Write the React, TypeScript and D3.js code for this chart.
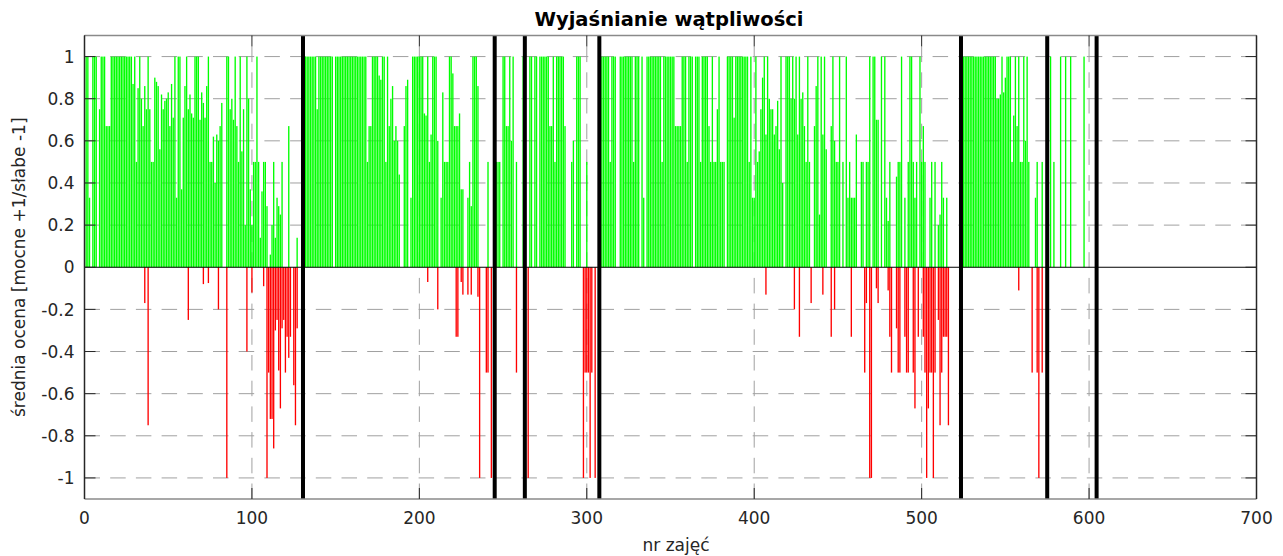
import * as d3 from "d3";

const TITLE = "Wyjaśnianie wątpliwości";
const X_LABEL = "nr zajęć";
const Y_LABEL = "średnia ocena [mocne +1/słabe -1]";

const xTicks = [0, 100, 200, 300, 400, 500, 600, 700];
const yTicks = [-1, -0.8, -0.6, -0.4, -0.2, 0, 0.2, 0.4, 0.6, 0.8, 1];

// granice bloków (grube pionowe linie)
const dividers = [130.5, 245, 263, 307.5, 523.5, 575, 604.5];

// numer pierwszych zajęć w każdym bloku
const blockStarts = [1, 131, 245, 264, 308, 524, 576];

// średnie dodatnie (mocne strony), zajęcia 1-130
const block1 = [
  1, 1, 0.33, 0, 1, 1, 1, 0, 0.75, 1,
  1, 1, 0.67, 0.67, 0.67, 1, 1, 1, 1, 1,
  1, 1, 1, 1, 1, 1, 1, 1, 0.87, 1,
  0.5, 0.85, 1, 0.8, 0.67, 0.86, 0.75, 1, 0.75, 0.5,
  0.5, 0.9, 0.88, 0.86, 0.56, 0.82, 0.75, 0.79, 0.8, 0.83,
  0.67, 0.87, 0.71, 1, 0.33, 1, 1, 0.37, 0.71, 0.86,
  1, 0.75, 0.82, 0.73, 0.71, 1, 1, 1, 0.7, 0.83,
  0.78, 0.71, 0.86, 1, 0.5, 0.5, 0.62, 0.4, 0.63, 0.6,
  0.67, 0.78, 0, 0, 1, 1, 0.75, 0.8, 0.7, 1,
  0.67, 0.5, 1, 0.55, 0.75, 0.2, 1, 0.8, 0.37, 0.2,
  0.5, 0.5, 1, 0.5, 0.14, 0.36, 0.5, 0.5, 0.29, 0,
  0.06, 0.2, 0.5, 0.14, 0.33, 0.29, 0.25, 0.5, 0, 0,
  0, 0.67, 0, 0, 0, 0, 0.14, 0, 0, 0,
];

// zajęcia 131-244
const block2 = [
  1, 1, 1, 1, 1, 1, 1, 1, 0.75, 1,
  1, 1, 1, 1, 1, 1, 1, 1, 0, 1,
  1, 1, 1, 1, 1, 1, 1, 1, 1, 1,
  1, 1, 1, 1, 1, 1, 1, 1, 0.5, 0.67,
  0.67, 1, 1, 1, 1, 0.91, 0.89, 1, 1, 0.5,
  1, 0.67, 0.8, 0.86, 0.6, 0.67, 0.6, 0.44, 0, 0,
  0.67, 0.86, 0.89, 0, 0.33, 1, 1, 1, 1, 1,
  1, 1, 0.73, 0.72, 1, 0.5, 0.63, 1, 1, 1,
  0.6, 0, 0.33, 0.83, 0.5, 0.5, 0.5, 1, 1, 0.92,
  0.67, 0.67, 0.67, 0.73, 0.37, 0.37, 0, 0, 0.33, 0.5,
  0.29, 1, 1, 1, 0.86, 0, 0, 0, 0, 0,
  0.5, 0, 0, 0,
];

// zajęcia 245-263
const block3 = [
  0, 0.5, 0.5, 0.5, 0, 1,
  1, 0.67, 0.67, 1, 0.6, 1, 0, 0.5, 0, 0,
  0, 1, 0,
];

// zajęcia 264-307
const block4 = [
  0, 0, 1, 1, 0, 1, 1,
  0, 1, 1, 1, 1, 1, 1, 0.67, 0.67, 1,
  0.5, 1, 1, 1, 1, 1, 0.67, 0, 0, 0,
  0.5, 0.6, 0, 1, 1, 1, 0, 0, 0, 0.5,
  0, 0, 0, 0, 0, 0, 0,
];

// zajęcia 308-523
const block5 = [
  1, 1, 1,
  1, 1, 1, 0.5, 1, 1, 1, 0, 0, 1,
  1, 1, 1, 1, 1, 1, 1, 0.5, 1, 1,
  1, 0, 1, 0.33, 0, 1, 1, 1, 1, 1,
  1, 1, 1, 1, 0.5, 1, 1, 1, 1, 1,
  1, 1, 0.67, 0.67, 0.67, 0.67, 1, 1, 1, 0.5,
  1, 1, 1, 0, 1, 1, 1, 0.5, 1, 1,
  1, 1, 0.67, 0.5, 1, 0.5, 0.5, 0.75, 1, 0.5,
  0.5, 0.5, 0, 1, 1, 1, 1, 0.71, 1, 1,
  1, 1, 1, 1, 1, 1, 0.5, 1, 0.33, 0.33,
  1, 0.5, 0.55, 0.75, 0.9, 1, 0.63, 1, 0.8, 0.75,
  0.75, 0.63, 0.67, 0.79, 0.56, 1, 0.4, 0, 1, 1,
  1, 0.8, 1, 0.8, 1, 0.63, 1, 0.8, 0.83, 0.67,
  0.5, 1, 0.5, 0, 0, 0.67, 0.86, 1, 0.25, 1,
  0.63, 1, 0.56, 0, 0, 0.67, 1, 0.6, 0.5, 0.5,
  1, 0, 0.5, 0, 1, 0.33, 0.5, 0.33, 0.33, 0.33,
  0.63, 0, 0, 0.5, 0.5, 0, 0.5, 0.5, 1, 0,
  1, 1, 0.7, 0.7, 0, 1, 0, 1, 0.33, 0.22,
  0.5, 0, 0, 0, 0.43, 0.5, 0.5, 1, 0, 0.33,
  0, 0.5, 1, 1, 0.5, 0.33, 0.5, 0, 1, 0.5,
  0.67, 0.5, 0, 0, 0.33, 0.5, 0, 0.5, 0, 0.2,
  0.25, 0.5, 0.33, 0, 0.33, 0, 0, 0, 0, 0,
  0, 0, 0,
];

// zajęcia 524-575
const block6 = [
  1, 1, 1, 1, 1, 1, 1,
  1, 1, 1, 1, 1, 1, 1, 1, 1, 1,
  1, 1, 1, 1, 0.8, 0.8, 0.82, 1, 0.83, 0.9,
  1, 1, 1, 0.5, 0.72, 1, 0.67, 1, 0.5, 0.5,
  1, 0.6, 1, 0.5, 0, 0, 0, 0.33, 0.5, 0,
  0, 0.5, 0, 0, 0,
];

// zajęcia 576-604
const block7 = [
  0, 1, 0, 0.5, 0, 0, 0, 1, 0, 0,
  1, 0, 0, 1, 0, 0, 0, 0, 0, 0,
  0, 1, 0, 0, 0, 0, 0, 0, 0,
];

// średnie ujemne (słabe strony)
const negSessions = [
  36, 38, 62, 71, 74, 80, 85, 97, 100, 107,
  109, 110, 111, 112, 113, 114, 115, 116, 117, 118,
  119, 120, 121, 122, 123, 125, 126, 127,
  205, 211, 222, 223, 225, 226, 229, 231, 235, 236, 240, 241, 243,
  258,
  265, 298, 299, 300, 301, 302, 303, 305,
  407, 424, 427, 434, 441, 446, 448, 458, 466, 467,
  469, 470, 473, 474, 480, 481, 482, 485, 486, 487,
  490, 491, 492, 495, 496, 498, 501, 502, 503, 504,
  505, 506, 507, 508, 510, 511, 512, 513, 514, 515, 516,
  558, 566, 569, 570, 572,
];
const negValues = [
  -0.17, -0.75, -0.25, -0.08, -0.075, -0.2, -1, -0.4, -0.12, -0.09,
  -1, -0.5, -0.72, -0.72, -0.86, -0.3, -0.25, -0.49, -0.67, -0.29,
  -0.25, -0.5, -0.33, -0.43, -0.33, -0.56, -0.75, -0.29,
  -0.07, -0.2, -0.33, -0.33, -0.07, -0.13, -0.13, -0.13, -0.14, -1, -0.5, -0.5, -1,
  -0.5,
  -1, -1, -0.5, -0.5, -0.5, -1, -0.5, -1,
  -0.13, -0.2, -0.33, -0.17, -0.13, -0.33, -0.2, -0.33, -0.5, -0.17,
  -1, -1, -0.1, -0.17, -0.11, -0.33, -0.5, -0.29, -0.5, -0.5,
  -0.33, -0.5, -0.5, -0.5, -0.67, -0.33, -0.33, -0.5, -1, -0.67,
  -0.5, -0.5, -1, -0.5, -0.25, -0.75, -0.5, -0.33, -0.33, -0.33, -0.75,
  -0.11, -0.5, -0.5, -1, -0.5,
];

const FONT = "'DejaVu Sans', Verdana, sans-serif";

export default function App() {
  const width = 1283;
  const height = 556;
  const left = 84.5;
  const right = 1256.5;
  const top = 35.5;
  const bottom = 499;

  const x = d3.scaleLinear().domain([0, 700]).range([left, right]);
  const y = d3.scaleLinear().domain([-1.1, 1.1]).range([bottom, top]);

  const blocks = [block1, block2, block3, block4, block5, block6, block7];
  const positive = blocks.flatMap((b, bi) =>
    b.map((v, i) => ({ n: blockStarts[bi] + i, v }))
  ).filter((d) => d.v > 0);
  const negative = negSessions.map((n, i) => ({ n, v: negValues[i] }));

  const bw = x(0.8) - x(0);
  const fmt = (v: number) => String(+v.toFixed(1));
  const tickLen = 11;
  const dash = "15.5 10.2";

  return (
    <div style={{ position: "absolute", left: 0, top: 0 }}>
      <svg width={width} height={height} style={{ display: "block", background: "#fff" }}>
        <rect x={0} y={0} width={width} height={height} fill="#fff" />

        {/* siatka */}
        {yTicks.filter((t) => t !== 0).map((t) => (
          <line key={"gy" + t} x1={left} x2={right} y1={y(t)} y2={y(t)}
            stroke="#a0a0a0" strokeWidth={1} strokeDasharray={dash} />
        ))}
        {xTicks.filter((t) => t > 0 && t < 700).map((t) => (
          <line key={"gx" + t} x1={x(t)} x2={x(t)} y1={bottom} y2={top}
            stroke="#a0a0a0" strokeWidth={1} strokeDasharray={dash} />
        ))}

        {/* słupki */}
        {positive.map((d) => (
          <rect key={"p" + d.n} x={x(d.n) - bw / 2} width={bw}
            y={y(d.v)} height={y(0) - y(d.v)} fill="#00ff00" />
        ))}
        {negative.map((d) => (
          <rect key={"n" + d.n} x={x(d.n) - bw / 2} width={bw}
            y={y(0)} height={y(d.v) - y(0)} fill="#ff0000" />
        ))}

        <line x1={left} x2={right} y1={y(0)} y2={y(0)} stroke="#000" strokeWidth={1} />

        {/* grube linie podziału */}
        {dividers.map((d) => (
          <line key={"d" + d} x1={x(d)} x2={x(d)} y1={top} y2={bottom}
            stroke="#000" strokeWidth={4} />
        ))}

        {/* ramka */}
        <line x1={left} x2={right} y1={top} y2={top} stroke="#8a8a8a" strokeWidth={1.5} />
        <line x1={left} x2={right} y1={bottom} y2={bottom} stroke="#8a8a8a" strokeWidth={1.5} />
        <line x1={left} x2={left} y1={top} y2={bottom} stroke="#262626" strokeWidth={1.5} />
        <line x1={right} x2={right} y1={top} y2={bottom} stroke="#262626" strokeWidth={1.5} />

        {/* znaczniki */}
        {yTicks.map((t) => (
          <g key={"ty" + t}>
            <line x1={left} x2={left + tickLen} y1={y(t)} y2={y(t)} stroke="#262626" />
            <line x1={right} x2={right - tickLen} y1={y(t)} y2={y(t)} stroke="#262626" />
            <text x={left - 10} y={y(t)} dy="0.36em" textAnchor="end"
              fontFamily={FONT} fontSize={17} fill="#262626">{fmt(t)}</text>
          </g>
        ))}
        {xTicks.map((t) => (
          <g key={"tx" + t}>
            <line x1={x(t)} x2={x(t)} y1={bottom} y2={bottom - tickLen} stroke="#262626" />
            <line x1={x(t)} x2={x(t)} y1={top} y2={top + tickLen} stroke="#262626" />
            <text x={x(t)} y={524} textAnchor="middle"
              fontFamily={FONT} fontSize={17} fill="#262626">{t}</text>
          </g>
        ))}

        <text x={669} y={26} textAnchor="middle" fontFamily={FONT}
          fontSize={19.5} fontWeight="bold" fill="#000">{TITLE}</text>
        <text x={676} y={551} textAnchor="middle" fontFamily={FONT}
          fontSize={17} fill="#262626">{X_LABEL}</text>
        <text transform={`translate(25,${y(0)}) rotate(-90)`} textAnchor="middle"
          fontFamily={FONT} fontSize={17} fill="#262626">{Y_LABEL}</text>
      </svg>
    </div>
  );
}
